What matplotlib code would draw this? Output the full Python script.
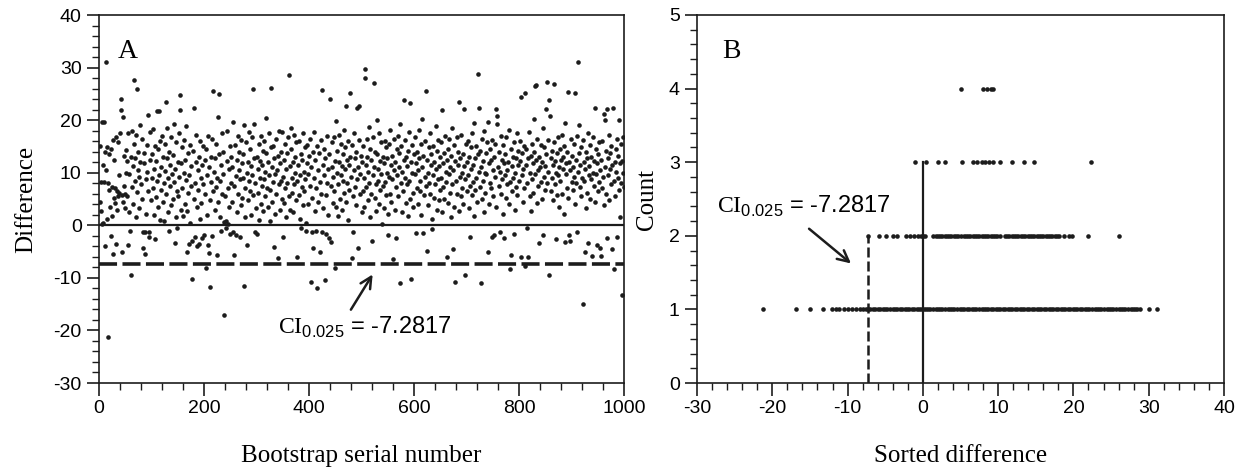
import numpy as np
import matplotlib.pyplot as plt
from matplotlib.ticker import MultipleLocator

plt.rcParams['font.family'] = 'Liberation Sans'
plt.rcParams['axes.unicode_minus'] = False
plt.rcParams['mathtext.fontset'] = 'custom'
plt.rcParams['mathtext.rm'] = 'Liberation Serif'
plt.rcParams['mathtext.sf'] = 'Liberation Sans'

# Panel A: bootstrap differences in serial order
diff = [
    4.5, 15, 2.8, 8.2, 0.3, 19.7, 11.5, 0.5, 19.7, 8.3, 14, -3.9, 31.0, 10.5, 14.8, 1.2, 8.0, -21.3, 13.5, 6.8, 3.5, -2.0, 14.5, 7.3, 1.8,
    -5.5, 16.2, 5.2, 12.5, 4.2, 7.0, 16.8, -3.5, 6.5, 3.0, 15.8, 5.6, 6.2, 9.5, 17.5, 24.0, 22.0, 5.8, -5.0, 20.6, 4.5, 7.5, 13.2, 6.0, 3.2,
    10, 14.3, 5.5, 12.2, -3.7, 17.6, 2.5, 9.8, -1.0, -9.5, 13.0, 7.2, 18.0, 4.0, 11.2, 15.5, 27.7, 8.5, 12.8, 1.5, 17.2, 26.0, 6.3, 10.5, 14.0,
    3.3, 9.2, 19.0, 12.0, 7.8, 16.5, 5.0, -1.3, -4.3, 11.8, 13.7, -1.3, -5.5, 8.8, 2.2, 15.2, 10.2, 20.9, 6.5, -1.2, -2.3, 12.5, 17.8, 4.8, 9.0,
    13.5, 7.0, 18.3, 2.0, 10.8, -2.7, 15.0, 5.3, 12.2, 8.5, 21.7, 3.5, 14.5, 21.7, 9.5, 1.0, 16.0, 6.8, 11.0, 17.0, 4.5, 13.0, 8.0, 0.8, 15.5,
    10.3, 23.5, 6.0, 12.8, 18.5, 2.5, 9.0, -1.1, 14.0, 7.5, 11.5, 3.8, 16.8, 9.8, 5.0, 13.3, 8.2, 19.2, -3.3, 10.7, 1.5, 15.8, 6.5, -0.6, 12.0,
    5.5, 17.5, 9.2, 21.9, 24.8, 3.0, 11.8, 14.8, 7.0, 1.8, 10.0, 16.3, 4.0, 12.5, 8.6, 18.8, 2.8, -5.1, 13.8, 6.2, 9.5, -3.5, 15.3, 0.5, 11.2,
    7.5, -2.9, -10.3, 14.2, 22.4, 5.0, 8.0, -2.3, 12.0, 17.2, 3.5, -4.0, 10.5, 6.8, -3.5, 13.0, 16.0, 1.2, 9.0, 4.2, 11.5, -2.5, 15.0, 7.8, -1.9,
    12.5, 6.0, -8.1, 14.5, 9.5, 2.0, 17.0, -3.8, -5.2, 11.0, 4.8, -11.8, 13.0, 8.2, 16.5, -2.0, 6.5, 25.6, 10.2, 3.0, 12.8, 7.2, 15.5, -5.6, 9.0,
    4.5, 20.6, 13.5, 25.0, 8.5, 1.5, -1.0, 11.5, 17.5, 6.0, 9.8, 14.0, 0.6, -17.0, 5.5, -0.6, 0.8, 12.2, 18.0, 0.3, 7.0, 10.8, 3.5, 15.0, -1.6,
    8.0, 13.0, 4.5, 11.0, 19.7, -1.3, 7.5, -5.7, 15.2, 9.3, -1.9, 12.5, 2.5, 17.0, 6.0, 10.5, 14.0, -2.2, 8.8, 3.8, 16.2, 11.8, 5.2, 13.5, 9.0,
    -11.6, 19.0, 1.5, 7.0, 15.8, 10.0, -3.8, 12.0, 4.8, 17.8, 8.5, 6.5, 14.5, 2.0, 11.2, 9.5, 16.8, 26.0, 5.8, 12.8, 19.2, -1.3, 8.0, 3.2, -1.6,
    13.0, 10.8, 6.2, 15.5, 1.0, 9.0, 12.2, 4.0, 17.0, 7.5, 11.5, 14.2, 2.8, 8.8, 16.0, 5.5, 10.2, 13.8, 20.5, 7.0, 3.5, 12.0, 17.5, 9.5, 6.8,
    0.8, 14.8, 26.2, 11.0, 4.5, 8.2, 15.0, -4.2, 12.8, 2.2, 9.8, 16.5, 6.0, 10.5, 13.2, -6.2, 7.8, 18.0, 3.0, 11.8, 8.5, 14.0, 5.0, 17.8, -2.2,
    9.2, 12.5, 4.2, 15.5, 7.0, 10.8, 1.5, 13.8, 8.0, 16.8, 28.6, 5.5, 11.2, 3.0, 14.5, 18.6, 9.0, 6.2, 12.0, 2.5, 17.2, 7.8, 10.0, 13.0, 4.8,
    15.8, 8.5, -6.0, 11.5, 5.8, 16.0, 9.5, 1.2, 13.5, -0.6, 7.2, 12.5, 17.5, 3.8, 10.2, 6.5, 14.8, 8.8, 0.5, -1.0, 11.8, 15.2, 4.0, 9.8, 13.2,
    7.5, 16.5, -10.8, 11.0, -1.2, 5.2, 14.0, -4.3, 9.0, 17.8, 2.8, 12.5, 7.0, -1.0, 15.0, -12.0, 10.5, 4.5, 13.8, 8.2, -5.1, 16.2, 6.0, 25.8, -1.2,
    11.5, 3.2, 14.5, 9.5, -10.4, 12.8, 5.8, -1.6, 17.0, 8.0, 10.8, 2.0, -2.4, 13.5, 24.1, -3.1, 7.5, 15.8, 11.0, 4.2, 9.2, 16.8, 6.5, -8.1, 12.2,
    3.5, 19.8, 10.0, 14.2, 7.8, 1.8, 12.0, 17.2, 5.0, 9.5, 15.5, 11.2, 3.0, 13.5, 8.5, 18.2, 6.2, 10.8, 14.8, 22.7, 4.5, 12.5, 8.0, 16.0, 1.0,
    11.5, 6.8, 25.1, 13.0, 9.2, -6.2, 15.2, 5.5, -1.2, 10.5, 17.5, 7.2, 12.8, 3.8, 14.0, 22.4, 8.8, 11.0, -4.3, 16.2, 22.7, 6.0, 9.8, 13.2, 2.5,
    12.0, 6.5, 15.0, 9.0, 3.5, 29.8, 28.1, 11.5, 7.2, 16.5, 13.0, 4.8, 10.2, 18.7, 8.0, 14.5, 1.5, 12.5, 6.0, -2.9, 16.8, 9.5, 27.0, 11.0, 5.2,
    14.0, 7.8, 2.8, 13.5, 20.1, 8.5, 10.8, 17.5, 4.0, 12.2, 6.8, 15.8, 9.8, 0.3, 13.0, 7.5, 11.8, 3.2, 16.0, 8.2, 14.8, 5.8, 10.0, 12.8, 2.2,
    -1.9, 9.2, 15.5, 6.0, 18.1, 11.5, 4.5, 13.2, 8.8, -6.4, 16.5, 10.5, 12.0, 3.0, 7.2, -2.5, 14.5, 9.5, 17.0, 5.5, 11.0, 13.8, 19.2, -11.0, 8.0,
    15.0, 2.5, 10.2, 6.5, 12.5, 23.8, 16.2, 9.0, 4.2, 13.0, 7.8, 11.2, 1.8, 14.2, 17.8, 8.5, 5.0, 23.3, -10.2, 12.0, 10.0, 15.2, 6.2, 3.5, 13.5,
    9.8, 16.8, -1.4, 11.8, 7.0, 14.0, 4.0, 10.5, 12.8, 18.2, 6.5, 8.5, 15.5, 2.0, 11.0, 20.3, -1.4, 13.2, 5.8, 9.2, 16.0, 25.5, 7.5, -4.8, 12.5,
    10.0, 3.8, 14.8, 8.0, 17.5, 6.0, 11.5, 13.5, 1.2, -0.8, 9.5, 15.0, 5.2, 12.0, 7.8, 18.8, 10.8, 3.0, 14.2, 8.8, 16.2, 4.8, 11.2, 6.8, 13.0,
    9.0, 15.8, 2.5, 21.9, 11.8, 7.2, 13.8, 5.0, 17.0, 10.2, 8.2, 12.5, -6.0, 14.5, 4.2, 16.5, 9.8, 6.2, 11.0, 1.5, 13.2, 18.5, 7.8, -4.5, 10.5,
    15.2, 3.5, 12.2, -10.7, 8.5, 16.8, 6.0, 11.5, 14.0, 2.8, 23.5, 9.2, 12.8, 5.5, 17.2, 10.0, 7.0, 13.5, 4.0, 22.2, 11.2, 8.8, -9.5, 15.5, 6.5,
    12.0, 9.5, 16.0, 3.2, 13.0, 7.5, -2.2, 10.8, 14.8, 5.8, 17.5, 8.2, 11.5, 19.4, 1.8, 12.8, 6.8, 15.0, 9.0, 4.5, 28.8, 13.5, 22.4, 10.2, 7.2,
    14.2, -11.0, 11.0, 5.0, 16.5, 8.5, 12.2, 2.5, 18.0, 10.0, 6.2, 13.8, 9.8, 15.8, 19.7, -5.0, 11.8, 4.0, 8.0, 14.5, 12.5, 7.0, -2.2, 16.2, 10.5,
    5.5, 13.0, -1.9, 9.2, 15.5, 3.5, 22.2, 20.8, 19.2, 11.0, 7.5, 14.0, -1.3, 10.2, 17.0, 6.0, 12.5, 8.8, 2.2, 15.2, 11.8, -2.4, 9.5, 13.5, 5.2,
    16.8, 7.8, 10.5, 12.0, 4.0, 18.2, -8.3, 8.2, 14.5, -5.6, 11.2, 6.5, 13.0, 9.0, 15.8, -1.6, 10.0, 3.0, 12.8, 7.2, 17.5, 5.8, 11.5, 14.2, 8.5,
    12.2, 16.0, -6.0, 24.4, 9.5, 13.8, 4.5, 10.8, 15.0, 7.0, 25.2, -7.8, 11.5, 14.5, -0.6, 8.0, -6.0, 12.8, 17.8, 5.5, 10.0, 13.2, 2.8, 15.5, 8.8,
    11.8, 6.2, 14.0, 20.3, 26.5, 9.8, 12.5, 26.7, 4.2, 16.5, 10.5, 7.5, 13.0, -3.3, 11.0, 15.2, 8.2, 5.0, 12.0, 18.5, -1.9, 9.2, 14.8, 6.8, 11.2,
    13.5, 22.2, 27.2, 8.0, 16.2, 10.2, -9.5, 23.9, 20.8, 12.8, 6.5, 14.2, 9.0, 4.8, 11.5, 26.9, 15.8, 7.8, 12.2, 10.0, -2.7, 13.8, 5.8, 16.8, 9.5,
    11.0, 3.5, 14.5, 8.5, 12.5, 17.2, 6.0, 10.8, 13.0, 2.2, 15.0, 19.4, -3.1, 9.8, 11.8, 7.0, 14.0, 25.3, 5.2, -1.9, 12.0, -2.9, 10.5, 16.5, 8.2,
    13.2, 6.8, 11.0, 15.5, 9.2, 25.1, 4.0, 12.5, 8.0, 17.0, -1.3, 10.2, 31.0, 19.0, 13.8, 7.2, 11.5, 5.5, 14.8, 9.0, 16.2, -14.9, 12.0, 8.5, -5.1,
    10.8, 14.0, 3.2, 6.2, 12.8, 17.5, -3.3, 9.5, 11.2, 15.2, 5.0, 13.0, 8.8, -5.9, 10.0, 16.8, 7.5, 12.2, 22.4, 4.5, 14.5, 9.8, -3.8, 11.8, 6.5,
    13.5, 8.2, 15.8, -4.3, 10.5, -5.9, 12.5, 7.0, 16.0, 9.2, 3.8, 21.1, 11.0, 20.0, 14.2, 6.0, 22.2, -2.4, 12.8, 9.5, 17.2, 4.8, 10.8, 13.8, 7.8,
    15.0, 11.5, -4.6, 22.3, -8.3, 8.5, 12.0, 5.5, 14.5, 10.2, 16.5, -2.2, 9.0, 13.2, 20.1, 6.8, 11.8, 1.5, 15.5, 8.0, 12.2, -13.2, 10.0, 16.8, 7.2,
]
serial = np.arange(1, len(diff) + 1)
ci = -7.2817

# Panel B: sorted differences by how often they occur
count1_x = [-21.2, -16.9, -15.0, -13.3, -12.1, -11.6, -11.1, -10.5, -10.0, -9.4, -8.9, -8.4, -8.0,
            -7.6, -7.3, -7.0, -6.6, -6.3, -6.0, -5.7, -5.3, -5.0, -4.7, -4.4, -4.0, -3.7, -3.4, -3.1,
            -2.8, -2.4, -2.1, -1.8, -1.5, -1.2, -0.8, -0.5, -0.2, 0.1, 0.4, 0.7, 1.0, 1.3, 1.7, 2.0,
            2.3, 2.6, 2.9, 3.3, 3.6, 3.9, 4.2, 4.5, 4.9, 5.2, 5.5, 5.8, 6.1, 6.5, 6.8, 7.1, 7.4, 7.8,
            8.1, 8.4, 8.7, 9.0, 9.3, 9.7, 10.0, 10.3, 10.6, 10.9, 11.3, 11.6, 11.9, 12.2, 12.5, 12.9,
            13.2, 13.5, 13.8, 14.1, 14.5, 14.8, 15.1, 15.4, 15.7, 16.1, 16.4, 16.7, 17.0, 17.3, 17.7,
            18.0, 18.3, 18.6, 18.9, 19.3, 19.6, 19.9, 20.2, 20.5, 20.9, 21.2, 21.5, 21.8, 22.1, 22.5,
            22.8, 23.1, 23.4, 23.7, 24.1, 24.4, 24.7, 25.0, 25.3, 25.7, 26.0, 26.3, 26.6, 26.9, 27.3,
            27.6, 27.9, 28.2, 28.5, 28.9, 30.0, 31.1]
count2_x = [-7.3, -5.8, -4.9, -4.0, -3.4, -2.2, -1.7, -1.2, -0.7, -0.3, 0.0, 0.3,
            1.4, 1.7, 2.0, 2.3, 2.6, 2.9, 3.2, 3.5, 3.8, 4.1, 4.4, 4.7, 5.0,
            5.4, 5.7, 6.0, 6.3, 6.6, 6.9, 7.2, 7.5, 7.8, 8.1, 8.4, 8.7, 9.0, 9.3, 9.6, 9.9, 10.2,
            10.9, 11.2, 11.5, 11.8, 12.1, 12.4, 12.7, 13.0, 13.3, 13.6, 13.9, 14.2, 14.5, 14.8,
            15.1, 15.4, 15.7, 16.0, 16.3, 16.6, 16.9, 17.2, 17.5, 17.8, 18.1,
            18.8, 19.4, 19.8, 22.0, 26.1]
count3_x = [-1.1, 0.4, 2.0, 2.9, 5.2, 6.6, 7.2, 7.8, 8.3, 8.8, 9.3, 10.3, 11.8, 13.4, 14.7, 22.3]
count4_x = [5.0, 8.0, 8.5, 9.0, 9.3]

ink = '#1c1c1c'
ci_label = r'$\mathrm{CI}_{\mathsf{0.025}}$' + ' = -7.2817'

fig = plt.figure(figsize=(12.42, 4.74), dpi=100)
axA = fig.add_axes([99 / 1242, 91 / 474, 525 / 1242, 368 / 474])
axB = fig.add_axes([697 / 1242, 91 / 474, 527 / 1242, 368 / 474])

# --- panel A
axA.plot(serial, diff, 'o', ms=3.3, color=ink, mec='none')
axA.axhline(0, color=ink, lw=1.6)
axA.axhline(ci, color=ink, lw=2.6, dashes=(5, 1.5))
axA.set_xlim(0, 1000)
axA.set_ylim(-30, 40)
axA.xaxis.set_major_locator(MultipleLocator(200))
axA.xaxis.set_minor_locator(MultipleLocator(40))
axA.yaxis.set_major_locator(MultipleLocator(10))
axA.yaxis.set_minor_locator(MultipleLocator(2))
axA.set_xlabel('Bootstrap serial number', family='Liberation Serif', fontsize=18, labelpad=20)
axA.set_ylabel('Difference', family='Liberation Serif', fontsize=18, labelpad=12)
axA.text(36, 31.8, 'A', family='Liberation Serif', fontsize=20, va='baseline')
axA.text(340, -20.6, ci_label, fontsize=17, va='baseline', ha='left')
axA.annotate('', xy=(524, -8.9), xytext=(477, -16.5),
             arrowprops=dict(arrowstyle='->', lw=1.8, color=ink, mutation_scale=20))

# --- panel B
for n, xs in zip([1, 2, 3, 4], [count1_x, count2_x, count3_x, count4_x]):
    axB.plot(xs, [n] * len(xs), 'o', ms=3.3, color=ink, mec='none')
axB.plot([0, 0], [0, 3], color=ink, lw=1.6)
axB.plot([ci, ci], [0, 2], color=ink, lw=1.8, dashes=(4, 1.6))
axB.set_xlim(-30, 40)
axB.set_ylim(0, 5)
axB.xaxis.set_major_locator(MultipleLocator(10))
axB.xaxis.set_minor_locator(MultipleLocator(2))
axB.yaxis.set_major_locator(MultipleLocator(1))
axB.yaxis.set_minor_locator(MultipleLocator(0.2))
axB.set_xlabel('Sorted difference', family='Liberation Serif', fontsize=18, labelpad=20)
axB.set_ylabel('Count', family='Liberation Serif', fontsize=18, labelpad=8)
axB.text(-26.7, 4.42, 'B', family='Liberation Serif', fontsize=20, va='baseline')
axB.text(-27.3, 2.31, ci_label, fontsize=17, va='baseline', ha='left')
axB.annotate('', xy=(-9.26, 1.60), xytext=(-15.4, 2.12),
             arrowprops=dict(arrowstyle='->', lw=1.8, color=ink, mutation_scale=20))

for ax in (axA, axB):
    for sp in ax.spines.values():
        sp.set_linewidth(1.2)
        sp.set_color(ink)
    ax.tick_params(which='major', direction='out', length=9, width=1.2, labelsize=14, color=ink)
    ax.tick_params(which='minor', direction='out', length=5, width=1.0, color=ink)

fig.savefig('out.png', dpi=100)
